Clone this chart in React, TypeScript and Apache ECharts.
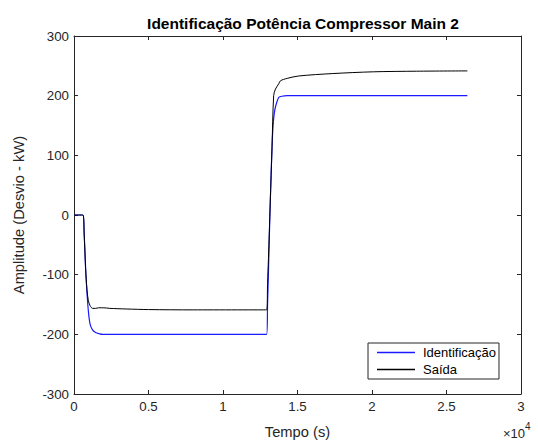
import React, { useEffect, useRef } from "react";
import * as echarts from "echarts";

const titleText = "Identificação Potência Compressor Main 2";
const seriesNames = ["Identificação", "Saída"];
const xTickValues = [0, 5000, 10000, 15000, 20000, 25000, 30000];
const yTickValues = [-300, -200, -100, 0, 100, 200, 300];

// Identificação (blue) — time (s), amplitude
const identTime = [0, 600, 680, 780, 870, 960, 1080, 1250, 1450, 1700, 1900, 12930, 12990, 13050, 13170, 13290, 13360, 13440, 13520, 13640, 13745, 13950, 14309, 26400];
const identValue = [0, 0, -30, -90, -130, -160, -183, -193, -197, -199, -200, -200, -150, -95, 20, 113, 150, 170, 181, 191, 197, 199, 200, 200];

// Saída (black)
const saidaTime = [0, 600, 680, 780, 870, 960, 1080, 1250, 1450, 1650, 2000, 2400, 3500, 5000, 8000, 12930, 12990, 13050, 13170, 13290, 13400, 13520, 13745, 13859, 14309, 15087, 17329, 20101, 23000, 26400];
const saidaValue = [0, 0, -30, -90, -125, -143, -152, -156.5, -156.5, -155.5, -155.5, -156.5, -157.5, -158.5, -159, -159, -115, -73, 20, 113, 200, 211, 220, 225, 229, 233, 237, 240, 241, 241.5];

const axisColor = "#262626";
const fontFamily = "'Liberation Sans', Arial, Helvetica, sans-serif";

export default function App() {
  const ref = useRef<HTMLDivElement>(null);
  useEffect(() => {
    if (!ref.current) return;
    const chart = echarts.init(ref.current, undefined, { renderer: "svg" });
    const identData = identTime.map((t, i) => [t, identValue[i]]);
    const saidaData = saidaTime.map((t, i) => [t, saidaValue[i]]);
    const common = {
      axisLine: { show: true, onZero: false, lineStyle: { color: axisColor, width: 1 } },
      axisTick: { show: true, inside: true, length: 4, lineStyle: { color: axisColor } },
      splitLine: { show: false },
    };
    chart.setOption({
      animation: false,
      backgroundColor: "#ffffff",
      textStyle: { fontFamily },
      title: {
        text: titleText,
        left: 298,
        top: 10,
        textAlign: "center",
        textStyle: { fontSize: 15.5, fontWeight: "bold", color: "#000", fontFamily },
      },
      grid: { left: 74, right: 17, top: 36, bottom: 47, containLabel: false },
      xAxis: [
        {
          type: "value",
          min: 0,
          max: 30000,
          interval: 5000,
          position: "bottom",
          ...common,
          axisLabel: {
            color: axisColor,
            fontSize: 13.3,
            margin: 6,
            fontFamily,
            formatter: (v: number) => (xTickValues.includes(v) ? String(v / 10000) : ""),
          },
          name: "Tempo (s)",
          nameLocation: "middle",
          nameGap: 30,
          nameTextStyle: { color: axisColor, fontSize: 14.7, fontFamily },
        },
        {
          type: "value",
          min: 0,
          max: 30000,
          interval: 5000,
          position: "top",
          ...common,
          axisLabel: { show: false },
        },
      ],
      yAxis: [
        {
          type: "value",
          min: -300,
          max: 300,
          interval: 100,
          position: "left",
          ...common,
          axisLabel: {
            color: axisColor,
            fontSize: 13.3,
            margin: 5,
            fontFamily,
            formatter: (v: number) => (yTickValues.includes(v) ? String(v) : ""),
          },
          name: "Amplitude (Desvio - kW)",
          nameLocation: "middle",
          nameGap: 48,
          nameTextStyle: { color: axisColor, fontSize: 14.7, fontFamily },
        },
        {
          type: "value",
          min: -300,
          max: 300,
          interval: 100,
          position: "right",
          ...common,
          axisLabel: { show: false },
        },
      ],
      legend: {
        orient: "vertical",
        left: 368,
        top: 343,
        data: seriesNames,
        icon: "rect",
        backgroundColor: "#ffffff",
        borderColor: axisColor,
        borderWidth: 1,
        borderRadius: 0,
        padding: [2, 3, 2, 9],
        itemGap: 2,
        itemWidth: 38,
        itemHeight: 1.3,
        textStyle: { color: "#000", fontSize: 13, lineHeight: 15, fontFamily, padding: [0, 0, 0, 3] },
      },
      graphic: [
        {
          type: "text",
          x: 503,
          y: 427,
          style: {
            text: "×10",
            fontSize: 13,
            fill: axisColor,
            fontFamily,
            verticalAlign: "top",
          },
        },
        {
          type: "text",
          x: 525,
          y: 421,
          style: {
            text: "4",
            fontSize: 10,
            fill: axisColor,
            fontFamily,
            verticalAlign: "top",
          },
        },
      ],
      series: [
        {
          name: seriesNames[0],
          type: "line",
          data: identData,
          symbol: "none",
          smooth: 0.3,
          lineStyle: { color: "#1a1aff", width: 1.2 },
          itemStyle: { color: "#1a1aff" },
          xAxisIndex: 0,
          yAxisIndex: 0,
        },
        {
          name: seriesNames[1],
          type: "line",
          data: saidaData,
          symbol: "none",
          smooth: 0.3,
          lineStyle: { color: "#000000", width: 1 },
          itemStyle: { color: "#000000" },
          xAxisIndex: 0,
          yAxisIndex: 0,
        },
      ],
    });
    return () => chart.dispose();
  }, []);
  return (
    <div
      ref={ref}
      style={{ position: "absolute", left: 0, top: 0, width: 538, height: 444 }}
    />
  );
}
